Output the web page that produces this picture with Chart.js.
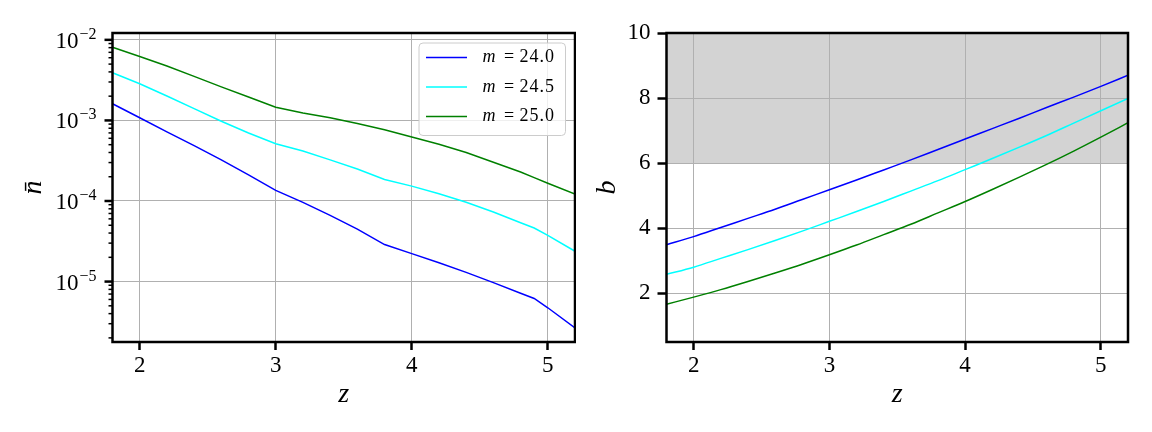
<!DOCTYPE html>
<html>
<head>
<meta charset="utf-8">
<script src="https://cdn.jsdelivr.net/npm/chart.js@4.4.1/dist/chart.umd.min.js"></script>
<style>
  html, body { margin: 0; padding: 0; background: #fff; }
  #wrap { position: relative; width: 1152px; height: 432px; }
  canvas { position: absolute; top: 0; }
  #left { left: 0; }
  #right { left: 576px; }
</style>
</head>
<body>
<div id="wrap">
  <canvas id="left" width="576" height="432"></canvas>
  <canvas id="right" width="576" height="432"></canvas>
</div>
<script>
// magnitude cuts, one curve per cut
const massLabels = ['24.0', '24.5', '25.0'];
const lineColors = ['#0000ff', '#00ffff', '#008000'];

// left panel: number density n-bar vs redshift
const zDensity = [1.8, 2.0, 2.2, 2.4, 2.6, 2.8, 3.0, 3.2, 3.4, 3.6, 3.8, 4.0, 4.2, 4.4, 4.6, 4.8, 4.9, 5.0, 5.2];
const nbar240 = [1.61e-3, 1.08e-3, 7.21e-4, 4.86e-4, 3.24e-4, 2.11e-4, 1.355e-4, 9.6e-5, 6.62e-5, 4.48e-5,
                 2.88e-5, 2.22e-5, 1.71e-5, 1.30e-5, 9.7e-6, 7.16e-6, 6.17e-6, 4.73e-6, 2.66e-6];
const nbar245 = [3.90e-3, 2.85e-3, 2.01e-3, 1.40e-3, 9.77e-4, 6.98e-4, 5.14e-4, 4.17e-4, 3.24e-4, 2.50e-4,
                 1.85e-4, 1.53e-4, 1.23e-4, 9.66e-5, 7.31e-5, 5.38e-5, 4.62e-5, 3.75e-5, 2.38e-5];
const nbar250 = [8.09e-3, 6.21e-3, 4.73e-3, 3.52e-3, 2.61e-3, 1.95e-3, 1.46e-3, 1.24e-3, 1.08e-3, 9.16e-4,
                 7.66e-4, 6.21e-4, 5.07e-4, 3.99e-4, 3.02e-4, 2.29e-4, 1.95e-4, 1.66e-4, 1.22e-4];

// right panel: bias b vs redshift
const zBias = [1.8, 2.0, 2.2, 2.4, 2.6, 2.8, 3.0, 3.2, 3.4, 3.6, 3.8, 4.0, 4.2, 4.4, 4.6, 4.8, 5.0, 5.2];
const b240 = [3.49, 3.74, 4.02, 4.30, 4.58, 4.88, 5.18, 5.48, 5.79, 6.10, 6.42, 6.74, 7.06, 7.38, 7.71, 8.03, 8.36, 8.70];
const b245 = [2.58, 2.80, 3.07, 3.34, 3.62, 3.91, 4.21, 4.51, 4.82, 5.14, 5.46, 5.80, 6.14, 6.49, 6.85, 7.23, 7.61, 7.99];
const b250 = [1.66, 1.88, 2.11, 2.36, 2.62, 2.89, 3.18, 3.48, 3.80, 4.12, 4.47, 4.82, 5.19, 5.57, 5.96, 6.37, 6.80, 7.24];
const shadedBand = [6, 10];   // grey region in b

// tick labels
const zTicks = [2, 3, 4, 5];
const bTicks = [2, 4, 6, 8, 10];
const nbarDecades = [-5, -4, -3, -2];

const SERIF = '"Liberation Serif", "DejaVu Serif", serif';

function series(xs, ys) {
    return xs.map((x, i) => ({x: x, y: ys[i]}));
}

function isDecade(v) {
    const l = Math.log10(v);
    return Math.abs(l - Math.round(l)) < 1e-6;
}

// minor + major positions on the log axis
function logTickValues(min, max) {
    const out = [];
    for (let e = Math.floor(Math.log10(min)); e <= Math.ceil(Math.log10(max)); e++) {
        for (let m = 1; m <= 9; m++) {
            const v = m * Math.pow(10, e);
            if (v >= min && v <= max) out.push(v);
        }
    }
    return out;
}

// black box around the axes, like matplotlib spines
const frame = {
    id: 'frame',
    afterDraw(chart) {
        const {ctx, chartArea: a} = chart;
        ctx.save();
        ctx.strokeStyle = '#000';
        ctx.lineWidth = 2.5;
        ctx.strokeRect(a.left, a.top, a.right - a.left, a.bottom - a.top);
        ctx.restore();
    }
};

// log y axis: long/short tick marks and 10^k labels
const logAxisMarks = {
    id: 'logAxisMarks',
    afterDraw(chart) {
        const {ctx, chartArea: a} = chart;
        const y = chart.scales.y;
        ctx.save();
        ctx.strokeStyle = '#000';
        y.ticks.forEach(t => {
            const py = y.getPixelForValue(t.value);
            const major = isDecade(t.value);
            ctx.lineWidth = major ? 2.5 : 1.5;
            const len = major ? 8 : 4;
            ctx.beginPath();
            ctx.moveTo(a.left - len, py);
            ctx.lineTo(a.left, py);
            ctx.stroke();
        });
        ctx.fillStyle = '#000';
        ctx.textBaseline = 'alphabetic';
        ctx.textAlign = 'left';
        nbarDecades.forEach(k => {
            const py = y.getPixelForValue(Math.pow(10, k));
            const sup = '\u2212' + Math.abs(k);
            ctx.font = '16px ' + SERIF;
            const wSup = ctx.measureText(sup).width;
            ctx.font = '23px ' + SERIF;
            const wBase = ctx.measureText('10').width;
            const right = a.left - 16;
            ctx.fillText('10', right - wSup - 1 - wBase, py + 8);
            ctx.font = '16px ' + SERIF;
            ctx.fillText(sup, right - wSup, py - 1);
        });
        ctx.restore();
    }
};

// legend with italic m
const mathLegend = {
    id: 'mathLegend',
    afterDraw(chart) {
        const {ctx, chartArea: a} = chart;
        const fs = 18;
        const italic = 'italic ' + fs + 'px ' + SERIF;
        const upright = fs + 'px ' + SERIF;
        const w = 146.5;
        const h = 92.5;
        const x0 = a.right - 9.5 - w;
        const y0 = a.top + 10;
        ctx.save();
        ctx.fillStyle = 'rgba(255,255,255,0.8)';
        ctx.strokeStyle = '#cccccc';
        ctx.lineWidth = 1;
        ctx.beginPath();
        ctx.roundRect(x0, y0, w, h, 4);
        ctx.fill();
        ctx.stroke();
        massLabels.forEach((lab, i) => {
            const ry = y0 + 14.6 + i * 29.4;
            ctx.strokeStyle = lineColors[i];
            ctx.lineWidth = 1.5;
            ctx.beginPath();
            ctx.moveTo(x0 + 7, ry);
            ctx.lineTo(x0 + 48, ry);
            ctx.stroke();
            ctx.fillStyle = '#000';
            ctx.textBaseline = 'middle';
            ctx.textAlign = 'left';
            ctx.font = italic;
            ctx.fillText('m', x0 + 63.5, ry);
            ctx.font = upright;
            ctx.fillText('=', x0 + 85, ry);
            ctx.letterSpacing = '1px';
            ctx.fillText(lab, x0 + 100.5, ry);
            ctx.letterSpacing = '0px';
        });
        ctx.restore();
    }
};

// grey shaded region on the bias panel
const band = {
    id: 'band',
    beforeDraw(chart) {
        const {ctx, chartArea: a} = chart;
        const y = chart.scales.y;
        const top = y.getPixelForValue(shadedBand[1]);
        const bot = y.getPixelForValue(shadedBand[0]);
        ctx.save();
        ctx.fillStyle = '#d3d3d3';
        ctx.fillRect(a.left, top, a.right - a.left, bot - top);
        ctx.restore();
    }
};

function lineSet(label, data, i, smooth) {
    return {
        label: label,
        data: data,
        borderColor: lineColors[i],
        backgroundColor: lineColors[i],
        borderWidth: 1.5,
        pointRadius: 0,
        fill: false,
        tension: 0,
        cubicInterpolationMode: smooth ? 'monotone' : 'default'
    };
}

function xAxis() {
    return {
        type: 'linear',
        min: 1.8,
        max: 5.2,
        afterBuildTicks: s => { s.ticks = zTicks.map(v => ({value: v})); },
        afterFit: s => { s.height = 90; },
        border: {display: false},
        grid: {color: '#b0b0b0', lineWidth: 1, tickLength: 8, tickWidth: 2.5, tickColor: '#000'},
        ticks: {color: '#000', padding: 2, font: {family: SERIF, size: 23}, callback: v => String(v)},
        title: {display: true, text: 'z', color: '#000', padding: {top: 0, bottom: 21},
                font: {family: SERIF, size: 28, style: 'italic'}}
    };
}

const common = {
    responsive: false,
    animation: false,
    devicePixelRatio: 1,
    plugins: {legend: {display: false}, tooltip: {enabled: false}}
};

const nMin = Math.pow(10, -5.75);
const nMax = Math.pow(10, -1.915);

new Chart(document.getElementById('left').getContext('2d'), {
    type: 'line',
    data: {
        datasets: [
            lineSet('m = ' + massLabels[0], series(zDensity, nbar240), 0, false),
            lineSet('m = ' + massLabels[1], series(zDensity, nbar245), 1, false),
            lineSet('m = ' + massLabels[2], series(zDensity, nbar250), 2, false)
        ]
    },
    options: Object.assign({}, common, {
        layout: {padding: {left: 0, top: 33, right: 1, bottom: 0}},
        scales: {
            x: xAxis(),
            y: {
                type: 'logarithmic',
                min: nMin,
                max: nMax,
                afterBuildTicks: s => { s.ticks = logTickValues(nMin, nMax).map(v => ({value: v})); },
                afterFit: s => { s.width = 112.5; },
                border: {display: false},
                grid: {
                    color: c => (c.tick && isDecade(c.tick.value)) ? '#b0b0b0' : 'rgba(0,0,0,0)',
                    lineWidth: 1,
                    drawTicks: false
                },
                ticks: {display: false},
                title: {display: true, text: 'n\u0304', color: '#000', padding: {top: 17, bottom: 0},
                        font: {family: SERIF, size: 28, style: 'italic'}}
            }
        }
    }),
    plugins: [logAxisMarks, mathLegend, frame]
});

new Chart(document.getElementById('right').getContext('2d'), {
    type: 'line',
    data: {
        datasets: [
            lineSet('m = ' + massLabels[0], series(zBias, b240), 0, true),
            lineSet('m = ' + massLabels[1], series(zBias, b245), 1, true),
            lineSet('m = ' + massLabels[2], series(zBias, b250), 2, true)
        ]
    },
    options: Object.assign({}, common, {
        layout: {padding: {left: 0, top: 33, right: 24, bottom: 0}},
        scales: {
            x: xAxis(),
            y: {
                type: 'linear',
                min: 0.5,
                max: 10,
                afterBuildTicks: s => { s.ticks = bTicks.map(v => ({value: v})); },
                afterFit: s => { s.width = 90.5; },
                border: {display: false},
                grid: {color: '#b0b0b0', lineWidth: 1, tickLength: 9, tickWidth: 2.5, tickColor: '#000'},
                ticks: {color: '#000', padding: 7, font: {family: SERIF, size: 23}, callback: v => String(v)},
                title: {display: true, text: 'b', color: '#000', padding: {top: 15, bottom: 0},
                        font: {family: SERIF, size: 28, style: 'italic'}}
            }
        }
    }),
    plugins: [band, frame]
});
</script>
</body>
</html>
